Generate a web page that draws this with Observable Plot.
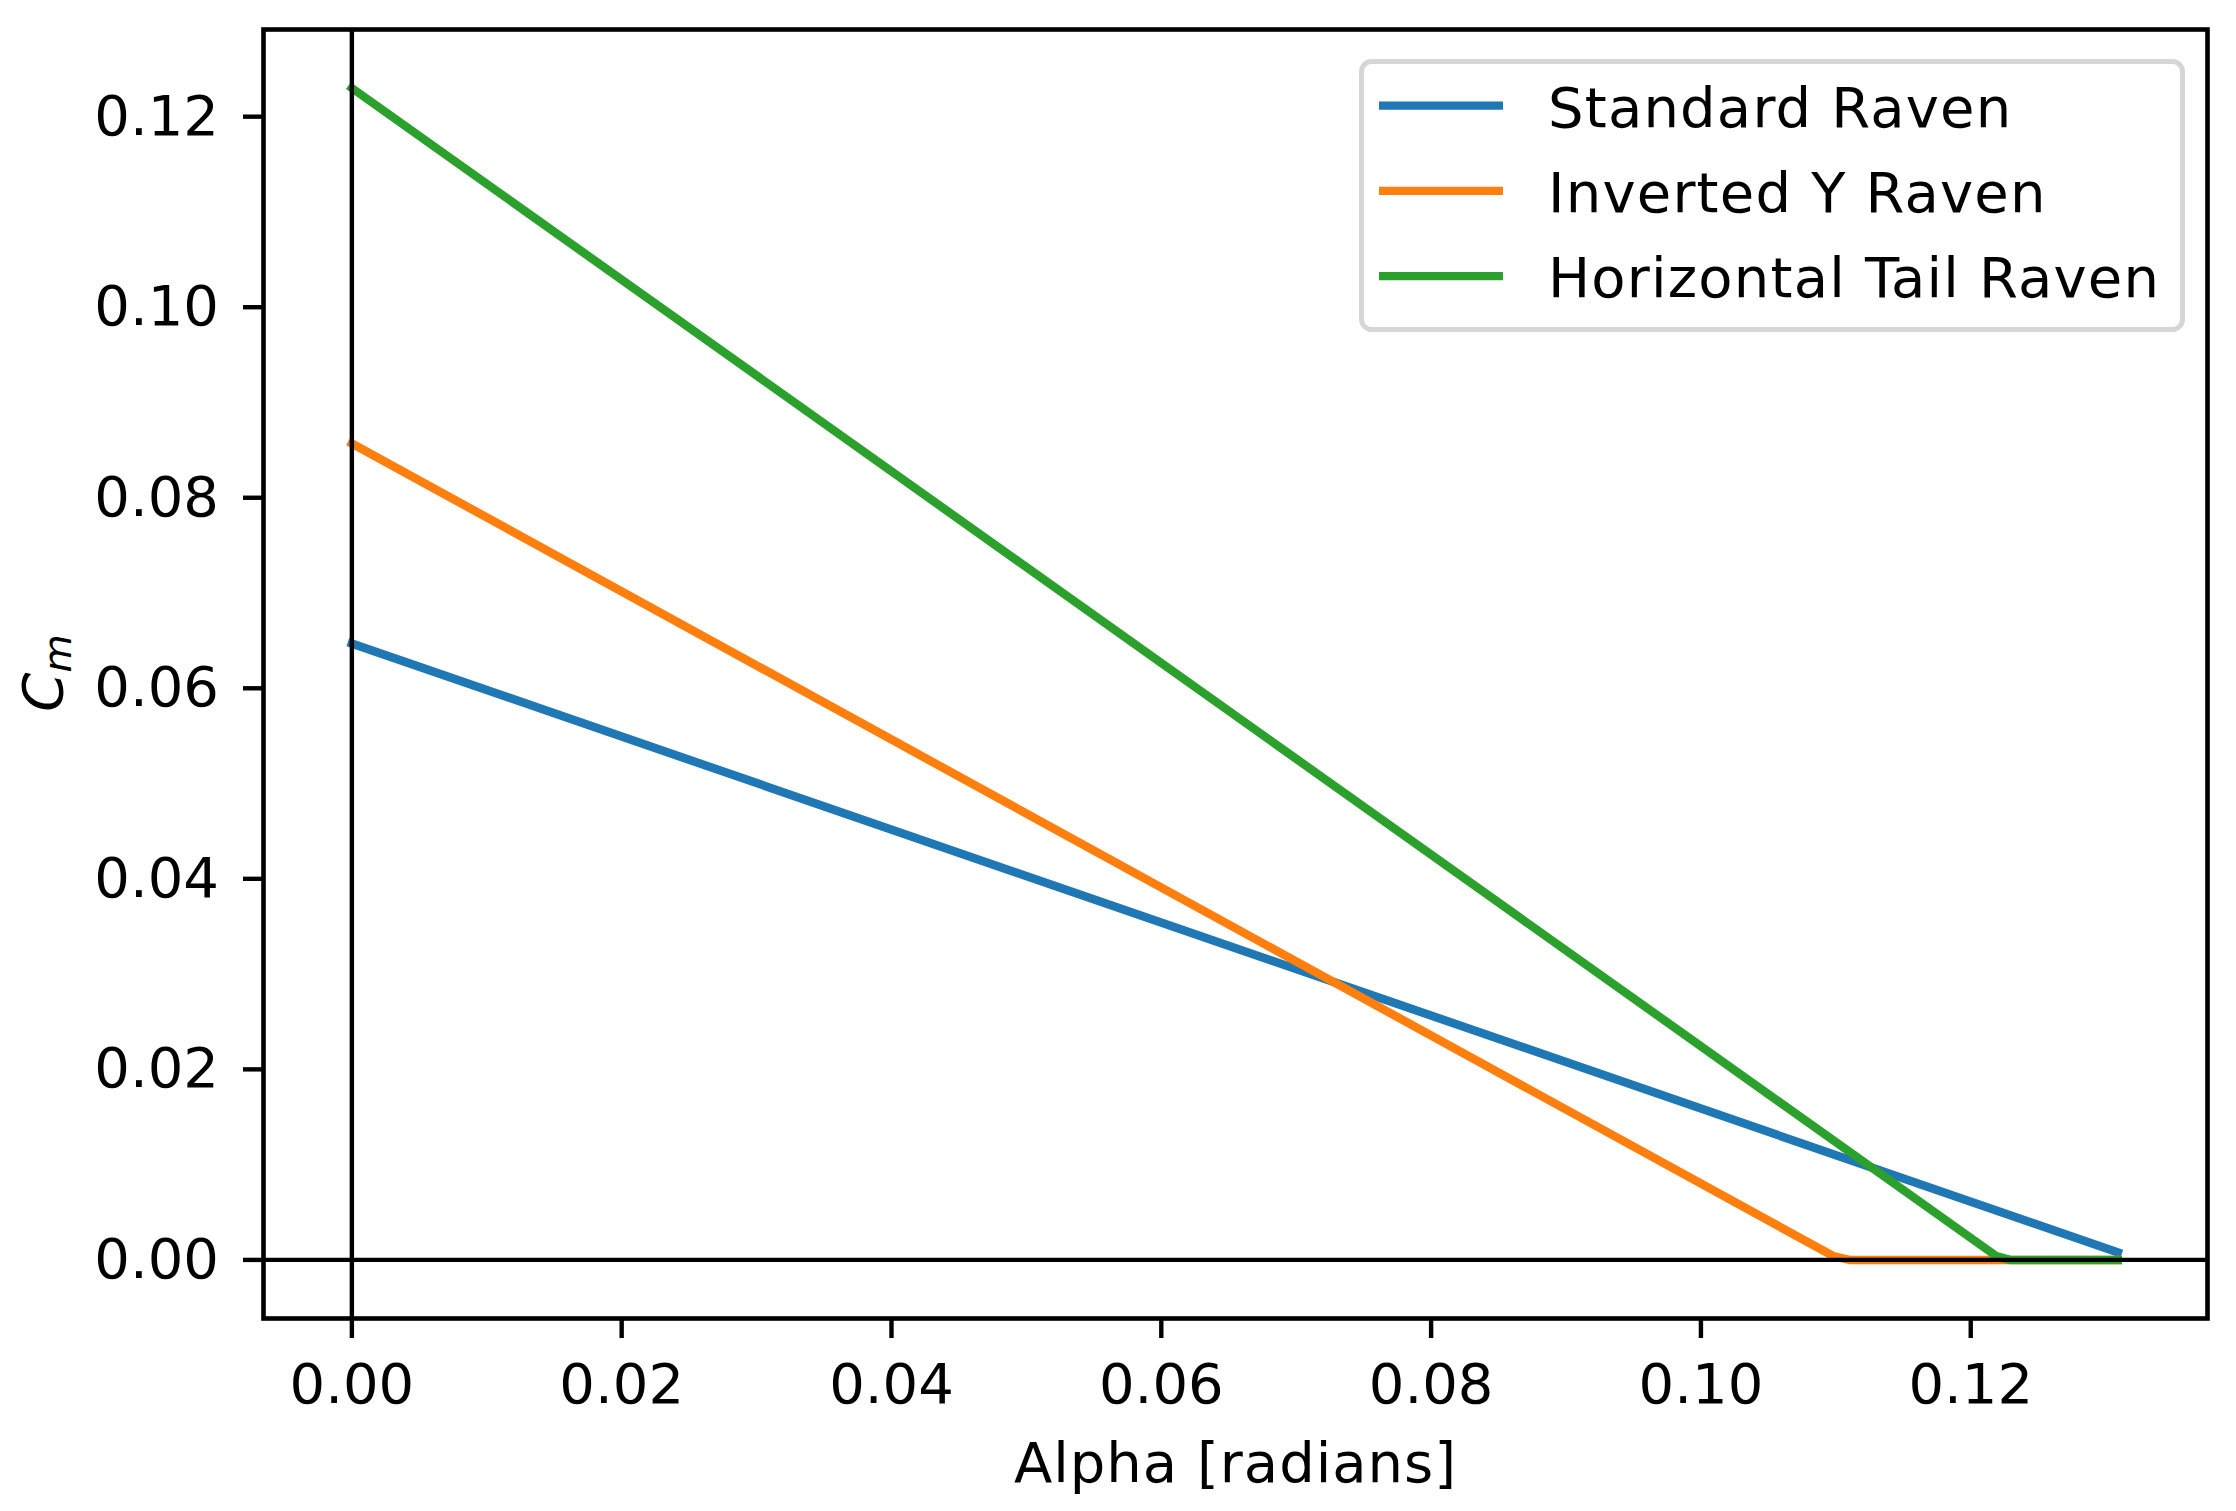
<!DOCTYPE html>
<html>
<head>
<meta charset="utf-8">
<script src="https://cdn.jsdelivr.net/npm/d3@7"></script>
<script src="https://cdn.jsdelivr.net/npm/@observablehq/plot@0.6"></script>
<style>
  html, body { margin: 0; padding: 0; background: #ffffff; }
  #chart { width: 2236px; height: 1511px; }
  #chart svg { display: block; }
</style>
</head>
<body>
<div id="chart"></div>
<script>
// ---- data ----
const seriesNames = ["Standard Raven", "Inverted Y Raven", "Horizontal Tail Raven"];
const seriesColors = ["#1f77b4", "#ff7f0e", "#2ca02c"];

const standardAlpha = [0, 0.1309];
const standardCm = [0.0647, 0.0008];

const invertedAlpha = [0, 0.1098, 0.1110, 0.1309];
const invertedCm = [0.0857, 0.0004, 0, 0];

const horizontalAlpha = [0, 0.1219, 0.1229, 0.1309];
const horizontalCm = [0.1230, 0.0004, 0, 0];

const xTicks = [0, 0.02, 0.04, 0.06, 0.08, 0.10, 0.12];
const yTicks = [0, 0.02, 0.04, 0.06, 0.08, 0.10, 0.12];

const xLabel = "Alpha [radians]";
const yLabelMain = "C";
const yLabelSub = "m";

// ---- build tables ----
const seriesAlpha = [standardAlpha, invertedAlpha, horizontalAlpha];
const seriesCm = [standardCm, invertedCm, horizontalCm];
const tables = seriesNames.map((name, i) =>
  seriesAlpha[i].map((a, j) => ({series: name, alpha: a, cm: seriesCm[i][j]}))
);

const fmt = d3.format(".2f");
const FS = 56;

const plot = Plot.plot({
  width: 2236,
  height: 1511,
  marginLeft: 263,
  marginRight: 29,
  marginTop: 29,
  marginBottom: 193,
  style: {fontFamily: "'DejaVu Sans', sans-serif", fontSize: FS + "px", background: "#ffffff", color: "#000000"},
  x: {domain: [-0.00655, 0.13755]},
  y: {domain: [-0.00615, 0.12915]},
  marks: [
    ...tables.map((t, i) => Plot.line(t, {
      x: "alpha", y: "cm",
      stroke: seriesColors[i], strokeWidth: 8.5,
      strokeLinecap: "square", strokeLinejoin: "round"
    })),
    Plot.ruleY([0], {stroke: "#000000", strokeWidth: 4.4}),
    Plot.ruleX([0], {stroke: "#000000", strokeWidth: 4.4}),
    Plot.frame({stroke: "#000000", strokeWidth: 4.6}),
    Plot.axisX({ticks: xTicks, tickFormat: fmt, tickSize: 20, tickPadding: 24.5, strokeWidth: 4.4, fontSize: FS, label: null}),
    Plot.axisY({ticks: yTicks, tickFormat: fmt, tickSize: 20, tickPadding: 24.5, strokeWidth: 4.4, fontSize: FS, label: null}),
    Plot.text([xLabel], {frameAnchor: "bottom", dy: 146, lineAnchor: "middle", fontSize: FS})
  ]
});

document.getElementById("chart").appendChild(plot);

const svg = d3.select(plot);

// slightly wider letter spacing for word labels (matches matplotlib Agg rendering)
svg.selectAll("text").filter(function () { return this.textContent === xLabel; })
  .attr("letter-spacing", "1px");

// ---- y label with subscript ----
const yl = svg.append("text")
  .attr("transform", "translate(62,673) rotate(-90)")
  .attr("text-anchor", "middle")
  .attr("font-family", "'DejaVu Sans', sans-serif")
  .attr("font-size", FS)
  .attr("fill", "#000000");
yl.append("tspan").attr("font-style", "italic").text(yLabelMain);
yl.append("tspan").attr("font-style", "italic").attr("font-size", FS * 0.7).attr("dy", 9).text(yLabelSub);

// ---- legend ----
const lg = svg.append("g")
  .attr("font-family", "'DejaVu Sans', sans-serif")
  .attr("font-size", FS)
  .attr("text-anchor", "start");
lg.append("rect")
  .attr("x", 1361.5).attr("y", 61.5)
  .attr("width", 821).attr("height", 268)
  .attr("rx", 10).attr("ry", 10)
  .attr("fill", "#ffffff").attr("fill-opacity", 0.8)
  .attr("stroke", "#d6d6d6").attr("stroke-width", 5);
seriesNames.forEach((name, i) => {
  const cy = 105.7 + i * 85.2;
  lg.append("line")
    .attr("x1", 1379).attr("x2", 1503)
    .attr("y1", cy).attr("y2", cy)
    .attr("stroke", seriesColors[i]).attr("stroke-width", 8.3);
  lg.append("text")
    .attr("x", 1548).attr("y", cy + 21)
    .attr("text-anchor", "start")
    .attr("letter-spacing", "1.2px")
    .attr("fill", "#000000")
    .text(name);
});
</script>
</body>
</html>
